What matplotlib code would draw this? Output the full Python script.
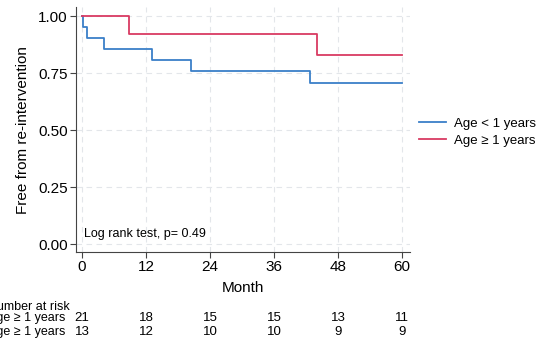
import matplotlib.pyplot as plt

plt.rcParams['font.family'] = ['Liberation Sans', 'DejaVu Sans']

# Kaplan-Meier step curves (time in months, survival)
young_t = [0, 0.1, 0.9, 4.2, 13.1, 20.4, 42.7, 60]
young_s = [1.0, 0.952, 0.905, 0.857, 0.810, 0.762, 0.707, 0.707]
old_t = [0, 8.9, 44.0, 60]
old_s = [1.0, 0.923, 0.832, 0.832]

ticks_x = [0, 12, 24, 36, 48, 60]
ticks_y = [0.00, 0.25, 0.50, 0.75, 1.00]
risk_young = [21, 18, 15, 15, 13, 11]
risk_old = [13, 12, 10, 10, 9, 9]

blue = '#3a7fc8'
red = '#d93a62'

fig = plt.figure(figsize=(5.37, 3.43), dpi=100)
ax = fig.add_axes([0.1415, 0.265, 0.622, 0.714])

ax.step(young_t, young_s, where='post', color=blue, lw=1.3, label='Age < 1 years')
ax.step(old_t, old_s, where='post', color=red, lw=1.3, label='Age ≥ 1 years')

ax.set_xlim(-1.125, 61.5)
ax.set_ylim(-0.035, 1.04)
ax.set_xticks(ticks_x)
ax.set_yticks(ticks_y)
ax.set_yticklabels(['%.2f' % v for v in ticks_y])
ax.tick_params(labelsize=11, length=4, color='#444444', direction='out', pad=2)
ax.grid(True, linestyle=(0, (5, 4)), color='#e3e6ea', lw=0.8)
for s in ['top', 'right']:
    ax.spines[s].set_visible(False)
for s in ['left', 'bottom']:
    ax.spines[s].set_color('#444444')

ax.set_xlabel('Month', fontsize=11, labelpad=5)
ax.set_ylabel('Free from re-intervention', fontsize=11, labelpad=6)
ax.text(0.4, 0.03, 'Log rank test, p= 0.49', fontsize=9)

ax.legend(loc='center left', bbox_to_anchor=(1.0, 0.49), frameon=False,
          fontsize=9.5, handlelength=2.0, handletextpad=0.6, labelspacing=0.35,
          borderaxespad=0.3)

# number at risk table: row labels share a left edge, group labels end at x=65px
rows = [(risk_young, 318), (risk_old, 332)]
labels = []
for row, y in rows:
    t = fig.text(0, 1 - y / 343, 'Age ≥ 1 years', fontsize=9, va='center', ha='left')
    labels.append(t)
    for xv, n in zip(ticks_x, row):
        xd = ax.transData.transform((xv, 0))[0]
        xf = fig.transFigure.inverted().transform((xd, 0))[0]
        fig.text(xf, 1 - y / 343, str(n), fontsize=9.5, va='center', ha='center')
head = fig.text(0, 1 - 307 / 343, 'Number at risk', fontsize=9, va='center', ha='left')
labels.append(head)

fig.canvas.draw()
w = labels[0].get_window_extent().width
left = (65 - w) / 537
for t in labels:
    t.set_x(left)

fig.savefig('out.png', dpi=100)
